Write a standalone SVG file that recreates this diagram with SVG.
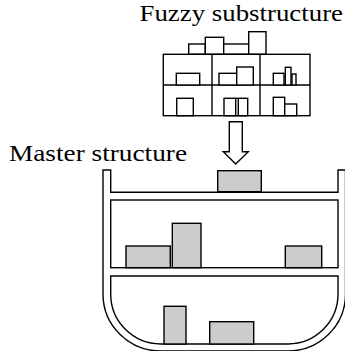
<svg xmlns="http://www.w3.org/2000/svg" width="345" height="351" viewBox="0 0 345 351">
<style>
.ln{fill:none;stroke:#000;stroke-width:1.4}
.bx{fill:#fff;stroke:#000;stroke-width:1.4}
.gr{fill:#cccccc;stroke:#000;stroke-width:1.4}
.tx{font-family:"Liberation Serif","Times New Roman",serif;font-size:23px;fill:#000}
</style>
<rect width="345" height="351" fill="#fff"/>
<g id="label-fuzzy"><text class="tx" x="139.5" y="21" textLength="203.5" lengthAdjust="spacingAndGlyphs">Fuzzy substructure</text></g>
<g id="label-master"><text class="tx" x="9" y="161" textLength="178" lengthAdjust="spacingAndGlyphs">Master structure</text></g>
<g id="fuzzy-substructure">
<rect class="bx" x="188.7" y="44" width="16.6" height="10.3"/>
<rect class="bx" x="205.3" y="37.3" width="18.4" height="17"/>
<rect class="bx" x="223.7" y="44" width="25" height="10.3"/>
<rect class="bx" x="248.7" y="31.7" width="17.3" height="22.6"/>
<rect class="bx" x="163.3" y="54.3" width="146.7" height="61.4"/>
<path class="ln" d="M163.3,85H310M212,54.3V115.7M260,54.3V115.7"/>
<rect class="bx" x="176.3" y="73.3" width="23.4" height="11.7"/>
<rect class="bx" x="219" y="73.3" width="17.7" height="11.7"/>
<rect class="bx" x="236.7" y="67" width="16.6" height="18"/>
<rect class="bx" x="273.3" y="73.3" width="10.7" height="11.7"/>
<rect class="bx" x="285.3" y="67.3" width="5.7" height="17.7"/>
<rect class="bx" x="292" y="74" width="4" height="11"/>
<rect class="bx" x="176.7" y="98.3" width="16.6" height="17.4"/>
<rect class="bx" x="224" y="98.3" width="23.7" height="17.4"/>
<path class="ln" d="M235.7,98.3V115.7M238.3,98.3V115.7"/>
<rect class="bx" x="273.3" y="97.3" width="11.4" height="18.4"/>
<rect class="bx" x="284.7" y="104" width="12" height="11.7"/>
</g>
<g id="connectors">
<polygon class="bx" points="229.3,121.7 242.3,121.7 242.3,151.7 248.3,151.7 235.7,164 223.3,151.7 229.3,151.7"/>
</g>
<g id="master-structure">
<path class="ln" d="M110.7,170V192.3H338V170H345.5V294A57.5,57 0 0 1 288,351H160.7A57.7,57 0 0 1 103,294V170Z"/>
<rect class="gr" x="217.7" y="170.7" width="43.6" height="21"/>
<rect class="ln" x="110.7" y="200" width="227.3" height="67.7"/>
<rect class="gr" x="126" y="246" width="44.3" height="21.7"/>
<rect class="gr" x="172.3" y="223.3" width="28.7" height="44.4"/>
<rect class="gr" x="285.3" y="246" width="36.4" height="21.7"/>
<path class="ln" d="M110.7,276H338V294A50,50 0 0 1 288,344H160.7A50,50 0 0 1 110.7,294Z"/>
<rect class="gr" x="164" y="306.3" width="22" height="37.7"/>
<rect class="gr" x="209.7" y="321.7" width="44" height="22.3"/>
</g>
</svg>
